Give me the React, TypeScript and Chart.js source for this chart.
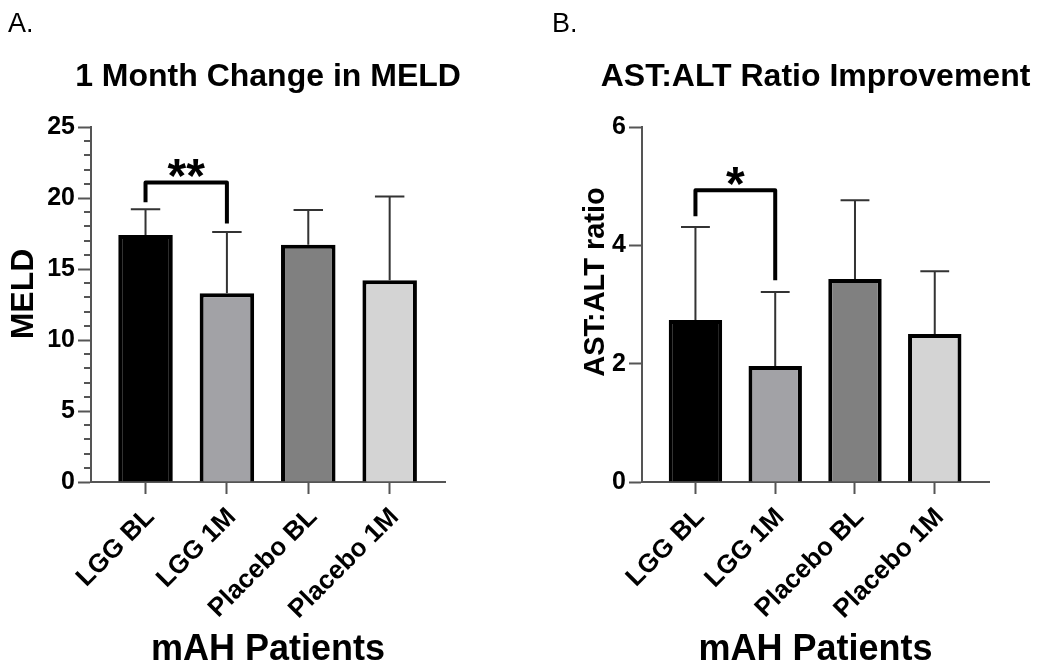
import React, { useEffect, useRef } from 'react';
import { Chart, registerables } from 'chart.js';

Chart.register(...registerables);

// ---------- data ----------
const categories = ['LGG BL', 'LGG 1M', 'Placebo BL', 'Placebo 1M'];
const barColors = ['#000000', '#a2a2a6', '#808080', '#d4d4d4'];

const meldMeans = [17.4, 13.3, 16.7, 14.2];
const meldErrTops = [19.2, 17.6, 19.15, 20.1];
const meldTicks = [0, 5, 10, 15, 20, 25];

const ratioMeans = [2.74, 1.96, 3.43, 2.5];
const ratioErrTops = [4.31, 3.21, 4.76, 3.56];
const ratioTicks = [0, 2, 4, 6];

const meldBracket = { from: 0, to: 1, top: 21.1, leftEnd: 19.7, rightEnd: 18.2, label: '**' };
const ratioBracket = { from: 0, to: 1, top: 4.93, leftEnd: 4.49, rightEnd: 3.41, label: '*' };

// ---------- style ----------
const FONT = '"Liberation Sans", Arial, Helvetica, sans-serif';
const AXIS = '#555555';

type Panel = {
  letter: string;
  letterX: number;
  title: string;
  yTitle: string;
  yTitleFont: number;
  yTitleX: number;
  yTitleY: number;
  means: number[];
  errTops: number[];
  ticks: number[];
  yMax: number;
  minorStep: number | null;
  bracket: typeof meldBracket;
  axisWidth: number;
  rightPad: number;
};

const panels: Panel[] = [
  {
    letter: 'A.',
    letterX: 8,
    title: '1 Month Change in MELD',
    yTitle: 'MELD',
    yTitleFont: 32,
    yTitleX: 33,
    yTitleY: 294,
    means: meldMeans,
    errTops: meldErrTops,
    ticks: meldTicks,
    yMax: 25,
    minorStep: 1,
    bracket: meldBracket,
    axisWidth: 91,
    rightPad: 80,
  },
  {
    letter: 'B.',
    letterX: 27,
    title: 'AST:ALT Ratio Improvement',
    yTitle: 'AST:ALT ratio',
    yTitleFont: 29,
    yTitleX: 79,
    yTitleY: 282,
    means: ratioMeans,
    errTops: ratioErrTops,
    ticks: ratioTicks,
    yMax: 6,
    minorStep: null,
    bracket: ratioBracket,
    axisWidth: 117,
    rightPad: 61,
  },
];

const decorPlugin = {
  id: 'decor',
  afterDatasetsDraw(chart: any, _args: any, opts: any) {
    const p: Panel = opts.panel;
    const { ctx } = chart;
    const x = chart.scales.x;
    const y = chart.scales.y;
    const meta = chart.getDatasetMeta(0);
    ctx.save();
    // error bars (upper only)
    ctx.strokeStyle = '#333333';
    ctx.lineWidth = 2;
    p.means.forEach((m, i) => {
      const bar = meta.data[i];
      const cx = x.getPixelForValue(i);
      const yTop = y.getPixelForValue(p.errTops[i]);
      const yBase = y.getPixelForValue(m);
      const half = bar.width * 0.27;
      ctx.beginPath();
      ctx.moveTo(cx, yBase);
      ctx.lineTo(cx, yTop);
      ctx.moveTo(cx - half, yTop);
      ctx.lineTo(cx + half, yTop);
      ctx.stroke();
    });
    // significance bracket
    const b = p.bracket;
    const x1 = x.getPixelForValue(b.from);
    const x2 = x.getPixelForValue(b.to);
    const yt = y.getPixelForValue(b.top);
    ctx.strokeStyle = '#000000';
    ctx.lineWidth = 4;
    ctx.lineJoin = 'round';
    ctx.lineCap = 'butt';
    ctx.beginPath();
    ctx.moveTo(x1, y.getPixelForValue(b.leftEnd));
    ctx.lineTo(x1, yt);
    ctx.lineTo(x2, yt);
    ctx.lineTo(x2, y.getPixelForValue(b.rightEnd));
    ctx.stroke();
    ctx.fillStyle = '#000000';
    ctx.font = `bold 48px ${FONT}`;
    ctx.textAlign = 'center';
    ctx.textBaseline = 'alphabetic';
    ctx.fillText(b.label, (x1 + x2) / 2, yt + 10);
    ctx.restore();
  },
  afterDraw(chart: any, _args: any, opts: any) {
    const p: Panel = opts.panel;
    const { ctx, chartArea } = chart;
    const y = chart.scales.y;
    ctx.save();
    // minor ticks
    if (p.minorStep) {
      ctx.strokeStyle = AXIS;
      ctx.lineWidth = 2;
      for (let v = 0; v <= p.yMax; v += p.minorStep) {
        if (p.ticks.includes(v)) continue;
        const py = Math.round(y.getPixelForValue(v));
        ctx.beginPath();
        ctx.moveTo(y.right - 7, py);
        ctx.lineTo(y.right, py);
        ctx.stroke();
      }
    }
    ctx.fillStyle = '#000000';
    // panel letter
    ctx.font = `27px ${FONT}`;
    ctx.textAlign = 'left';
    ctx.textBaseline = 'alphabetic';
    ctx.fillText(p.letter, p.letterX, 32);
    // title
    const cx = (chartArea.left + chartArea.right) / 2;
    ctx.font = `bold 32px ${FONT}`;
    ctx.textAlign = 'center';
    ctx.fillText(p.title, cx, 86);
    // x title
    ctx.font = `bold 36px ${FONT}`;
    ctx.fillText('mAH Patients', cx, 660);
    // y title
    ctx.translate(p.yTitleX, p.yTitleY);
    ctx.rotate(-Math.PI / 2);
    ctx.font = `bold ${p.yTitleFont}px ${FONT}`;
    ctx.fillText(p.yTitle, 0, 0);
    ctx.restore();
  },
};

function PanelChart({ panel, left }: { panel: Panel; left: number }) {
  const ref = useRef<HTMLCanvasElement | null>(null);
  useEffect(() => {
    if (!ref.current) return;
    const chart = new Chart(ref.current, {
      type: 'bar',
      data: {
        datasets: [
          {
            data: panel.means.map((m, i) => ({ x: i, y: m })),
            backgroundColor: barColors,
            borderColor: '#000000',
            borderWidth: 4,
            categoryPercentage: 0.67,
            barPercentage: 1,
          } as any,
        ],
      },
      options: {
        animation: false,
        responsive: false,
        maintainAspectRatio: false,
        devicePixelRatio: 1,
        layout: { padding: { left: 0, right: panel.rightPad, top: 127, bottom: 0 } },
        plugins: {
          legend: { display: false },
          tooltip: { enabled: false },
          title: { display: false },
          decor: { panel },
        } as any,
        scales: {
          x: {
            type: 'linear',
            offset: false,
            bounds: 'data',
            min: -0.67,
            max: 3.68,
            afterBuildTicks: (s: any) => {
              s.ticks = categories.map((_, i) => ({ value: i }));
            },
            afterFit: (s: any) => {
              s.height = 190;
            },
            grid: {
              display: true,
              offset: false,
              drawOnChartArea: false,
              drawTicks: true,
              tickLength: 12,
              tickWidth: 2,
              tickColor: AXIS,
            },
            border: { display: true, color: AXIS, width: 2 },
            ticks: {
              stepSize: 1,
              autoSkip: false,
              minRotation: 45,
              maxRotation: 45,
              padding: 8,
              labelOffset: 5,
              color: '#000000',
              font: { family: FONT, size: 26, weight: 'bold' },
              callback: (v: any) => categories[Math.round(Number(v))] ?? '',
            },
          } as any,
          y: {
            type: 'linear',
            min: 0,
            max: panel.yMax,
            afterBuildTicks: (s: any) => {
              s.ticks = panel.ticks.map((v) => ({ value: v }));
            },
            afterFit: (s: any) => {
              s.width = panel.axisWidth;
            },
            grid: {
              display: true,
              drawOnChartArea: false,
              drawTicks: true,
              tickLength: 13,
              tickWidth: 2,
              tickColor: AXIS,
            },
            border: { display: true, color: AXIS, width: 2 },
            ticks: {
              padding: 3,
              color: '#000000',
              font: { family: FONT, size: 25, weight: 'bold' },
            },
          } as any,
        },
      },
      plugins: [decorPlugin as any],
    });
    return () => chart.destroy();
  }, [panel]);
  return (
    <canvas
      ref={ref}
      width={525}
      height={672}
      style={{ position: 'absolute', left, top: 0, width: 525, height: 672 }}
    />
  );
}

export default function App() {
  return (
    <div style={{ position: 'absolute', left: 0, top: 0, width: 1050, height: 672, background: '#ffffff' }}>
      <PanelChart panel={panels[0]} left={0} />
      <PanelChart panel={panels[1]} left={525} />
    </div>
  );
}
